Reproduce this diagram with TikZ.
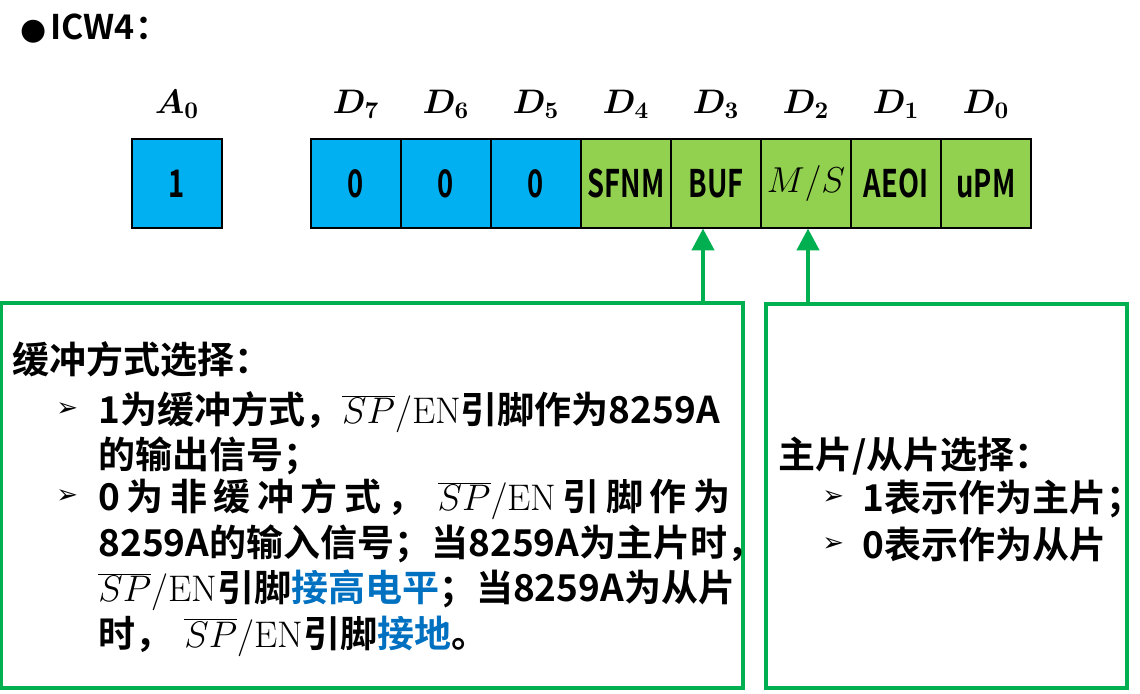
\documentclass[tikz,border=0pt]{standalone}
\usepackage{fix-cm}
\usepackage{fontspec}
\usepackage{bm}
\usetikzlibrary{positioning,arrows.meta}
\newfontfamily\hei{Noto Sans CJK SC Bold}
\newfontfamily\heinarrow{Noto Sans CJK SC Bold}[FakeStretch=0.72]
\newfontfamily\symfont{DejaVu Sans}
\definecolor{regblue}{HTML}{00B0F0}
\definecolor{reggreen}{HTML}{92D050}
\definecolor{framegreen}{HTML}{00B050}
\definecolor{pinblue}{HTML}{0070C0}
\newcommand{\spen}{$\overline{SP}/\mathrm{EN}$}
\newcommand{\tick}{{\symfont\fontsize{13}{13}\selectfont ➢}}
\begin{document}
\begin{tikzpicture}[x=0.5pt,y=-0.5pt,
    cell/.style={draw=black,line width=0.6pt,outer sep=0pt,inner sep=0pt,
                 minimum width=45pt,minimum height=44.5pt,
                 font=\heinarrow\fontsize{19}{19}\selectfont},
    bluecell/.style={cell,fill=regblue},
    greencell/.style={cell,fill=reggreen},
    bitname/.style={inner sep=0pt,above=10pt of #1,
                    font=\fontsize{17}{17}\selectfont},
    notebox/.style={draw=framegreen,line width=2pt,outer sep=0pt,
                    inner sep=0pt,anchor=north west},
    textline/.style={anchor=base west,inner sep=0pt,
                     font=\hei\fontsize{18.5}{22}\selectfont},
    tickmark/.style={anchor=west,inner sep=0pt},
    pointer/.style={draw=framegreen,line width=2.3pt,
                    -{Triangle[length=11pt,width=11pt]}}
]
    \useasboundingbox (0,0) rectangle (1140,694);

    % heading
    \node[anchor=base west,inner sep=0pt,font=\hei\fontsize{17}{17}\selectfont]
        (title) at (20,40) {{\symfont\fontsize{15}{15}\selectfont ●}\hspace{2pt}ICW4：};

    % A0 and the data bits
    \node[bluecell] (cellA0) at (177,183.5) {1};
    \node[bluecell] (cellD7) at (356,183.5) {0};
    \node[bluecell,right=0pt of cellD7] (cellD6) {0};
    \node[bluecell,right=0pt of cellD6] (cellD5) {0};
    \node[greencell,right=0pt of cellD5] (cellD4) {SFNM};
    \node[greencell,right=0pt of cellD4] (cellD3) {BUF};
    \node[greencell,right=0pt of cellD3] (cellD2) {\fontsize{18}{18}\selectfont$M/S$};
    \node[greencell,right=0pt of cellD2] (cellD1) {AEOI};
    \node[greencell,right=0pt of cellD1] (cellD0) {uPM};

    \node[bitname=cellA0] (lblA0) {$\bm{A_0}$};
    \node[bitname=cellD7] (lblD7) {$\bm{D_7}$};
    \node[bitname=cellD6] (lblD6) {$\bm{D_6}$};
    \node[bitname=cellD5] (lblD5) {$\bm{D_5}$};
    \node[bitname=cellD4] (lblD4) {$\bm{D_4}$};
    \node[bitname=cellD3] (lblD3) {$\bm{D_3}$};
    \node[bitname=cellD2] (lblD2) {$\bm{D_2}$};
    \node[bitname=cellD1] (lblD1) {$\bm{D_1}$};
    \node[bitname=cellD0] (lblD0) {$\bm{D_0}$};

    % note frames
    \node[notebox,minimum width=371pt,minimum height=192.5pt]
        (bufnote) at (1,303) {};
    \node[notebox,minimum width=180.5pt,minimum height=192pt]
        (msnote) at (766,304) {};

    \coordinate (bufpin) at (703,228.5);
    \coordinate (mspin) at (808,228.5);
    \draw[pointer] (bufnote.north -| bufpin) -- (bufpin);
    \draw[pointer] (msnote.north -| mspin) -- (mspin);

    % buffer mode text
    \node[textline] (bufhead) at (12,374) {缓冲方式选择：};
    \node[tickmark] (buftick1) at (56,410) {\tick};
    \node[textline] (bufline1) at (98,424) {1为缓冲方式，\spen 引脚作为8259A};
    \node[textline] (bufline2) at (98,469) {的输出信号；};
    \node[tickmark] (buftick2) at (56,497) {\tick};
    \node[textline] (bufline3) at (98,511) {\makebox[316pt][s]{0\hfill 为\hfill 非\hfill
        缓\hfill 冲\hfill 方\hfill 式\hfill ，\hfill\hfill \spen\hfill 引\hfill 脚\hfill
        作\hfill 为}};
    \node[textline] (bufline4) at (98,557) {8259A的输入信号；当8259A为主片时，};
    \node[textline] (bufline5) at (98,602)
        {\spen 引脚{\color{pinblue}接高电平}；当8259A为从片};
    \node[textline] (bufline6) at (98,647)
        {时，\hspace{6pt}\spen 引脚{\color{pinblue}接地}。};

    % master/slave text
    \node[textline] (mshead) at (778,469) {主片/从片选择：};
    \node[tickmark] (mstick1) at (822,498) {\tick};
    \node[textline] (msline1) at (862,512) {1表示作为主片；};
    \node[tickmark] (mstick2) at (822,545) {\tick};
    \node[textline] (msline2) at (862,559) {0表示作为从片};
\end{tikzpicture}
\end{document}
